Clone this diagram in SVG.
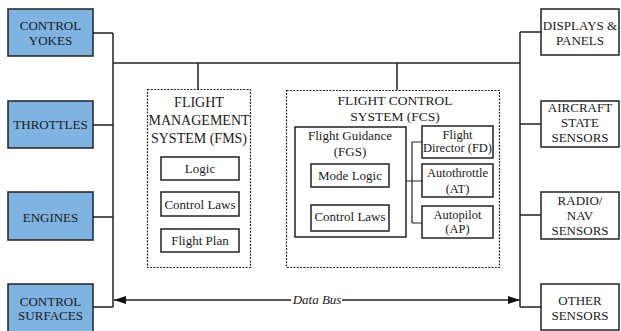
<svg xmlns="http://www.w3.org/2000/svg" width="621" height="331" viewBox="0 0 621 331">
<defs>
<style>
text{fill:#1a1a1a;text-anchor:middle}
.lb{font-size:13px}
.hd{font-size:14px}
.in{font-size:13px}
.sm{font-size:12.5px}
.blue{fill:#7fb3e1;stroke:#222;stroke-width:1.5}
.wb{fill:#fff;stroke:#222;stroke-width:1.5}
.dash{fill:none;stroke:#222;stroke-width:1.2;stroke-dasharray:2 1.3}
.ln{fill:none;stroke:#222;stroke-width:1.5}
.thin{fill:none;stroke:#222;stroke-width:1.2}
</style>
<marker id="ah" viewBox="0 0 12 8" refX="12" refY="4" markerWidth="12" markerHeight="8" markerUnits="userSpaceOnUse" orient="auto">
<path d="M0,0 L12,4 L0,8 Z" fill="#111"/>
</marker>
</defs>
<rect width="621" height="331" fill="#fff"/>
<g font-family="'Liberation Serif', 'DejaVu Serif', serif">
<g id="connectors">
<path class="ln" d="M113,33 V307 M93,33 H113 M93,125 H113 M93,217 H113 M93,307 H113"/>
<path class="ln" d="M113,63 H520"/>
<path class="ln" d="M520,32 V307 M520,32 H541 M520,124 H541 M520,215 H541 M520,307 H541"/>
<path class="ln" d="M198,63 V89 M397,63 V90"/>
<path class="thin" d="M406,181 H422 M412,142 V223 M412,142 H422 M412,223 H422"/>
<path class="ln" d="M291,300 H114" marker-end="url(#ah)"/>
<path class="ln" d="M342,300 H520" marker-end="url(#ah)"/>
<text x="317" y="304" style="font-size:13px;font-style:italic">Data Bus</text>
</g>
<g id="control-yokes"><rect class="blue" x="8" y="9" width="85" height="47"/><text class="lb" x="50.5" y="29.5">CONTROL</text><text class="lb" x="50.5" y="44.5">YOKES</text></g>
<g id="throttles"><rect class="blue" x="8" y="101" width="85" height="47"/><text class="lb" x="50.5" y="129">THROTTLES</text></g>
<g id="engines"><rect class="blue" x="8" y="192" width="85" height="48"/><text class="lb" x="50.5" y="221.5">ENGINES</text></g>
<g id="control-surfaces"><rect class="blue" x="8" y="284" width="85" height="48"/><text class="lb" x="50.5" y="305.7">CONTROL</text><text class="lb" x="50.5" y="320">SURFACES</text></g>
<g id="displays"><rect class="wb" x="541" y="9" width="78" height="46"/><text class="lb" x="580" y="30">DISPLAYS &amp;</text><text class="lb" x="580" y="44.5">PANELS</text></g>
<g id="aircraft-state"><rect class="wb" x="541" y="101" width="78" height="46"/><text class="lb" x="580" y="112">AIRCRAFT</text><text class="lb" x="580" y="126.7">STATE</text><text class="lb" x="580" y="141.5">SENSORS</text></g>
<g id="radio-nav"><rect class="wb" x="541" y="192" width="78" height="47"/><text class="lb" x="580" y="204.5">RADIO/</text><text class="lb" x="580" y="219.5">NAV</text><text class="lb" x="580" y="235">SENSORS</text></g>
<g id="other-sensors"><rect class="wb" x="541" y="284" width="78" height="46"/><text class="lb" x="580" y="305">OTHER</text><text class="lb" x="580" y="320">SENSORS</text></g>
<g id="fms">
<rect class="dash" x="147.5" y="89.5" width="103" height="178"/>
<text class="hd" x="199" y="107">FLIGHT</text><text class="hd" x="199" y="125">MANAGEMENT</text><text class="hd" x="199" y="142.7">SYSTEM (FMS)</text>
<g id="fms-logic"><rect class="wb" x="161" y="157" width="78" height="23"/><text class="in" x="200" y="172.5">Logic</text></g>
<g id="fms-control-laws"><rect class="wb" x="161" y="192" width="78" height="24"/><text class="in" x="200" y="208.5">Control Laws</text></g>
<g id="fms-flight-plan"><rect class="wb" x="161" y="229" width="78" height="23"/><text class="in" x="200" y="245">Flight Plan</text></g>
</g>
<g id="fcs">
<rect class="dash" x="286.5" y="90.5" width="213" height="177"/>
<text style="font-size:13.5px" x="395" y="104.5">FLIGHT CONTROL</text><text style="font-size:13.5px" x="395" y="121">SYSTEM (FCS)</text>
<g id="fgs"><rect class="wb" x="295" y="127" width="111" height="110"/><text class="in" x="350" y="140">Flight Guidance</text><text class="in" x="350" y="155.5">(FGS)</text></g>
<g id="mode-logic"><rect class="wb" x="311" y="164" width="78" height="23"/><text class="in" x="350" y="179.5">Mode Logic</text></g>
<g id="fcs-control-laws"><rect class="wb" x="311" y="205" width="78" height="26"/><text class="in" x="350" y="220.5">Control Laws</text></g>
<g id="flight-director"><rect class="wb" x="422" y="126" width="71" height="32"/><text class="sm" x="457.5" y="138.5">Flight</text><text class="sm" x="457.5" y="152.3">Director (FD)</text></g>
<g id="autothrottle"><rect class="wb" x="422" y="164" width="71" height="33"/><text class="sm" x="457.5" y="177">Autothrottle</text><text class="sm" x="457.5" y="192.5">(AT)</text></g>
<g id="autopilot"><rect class="wb" x="422" y="206" width="71" height="32"/><text class="sm" x="457.5" y="218.5">Autopilot</text><text class="sm" x="457.5" y="233">(AP)</text></g>
</g>
</g>
</svg>
